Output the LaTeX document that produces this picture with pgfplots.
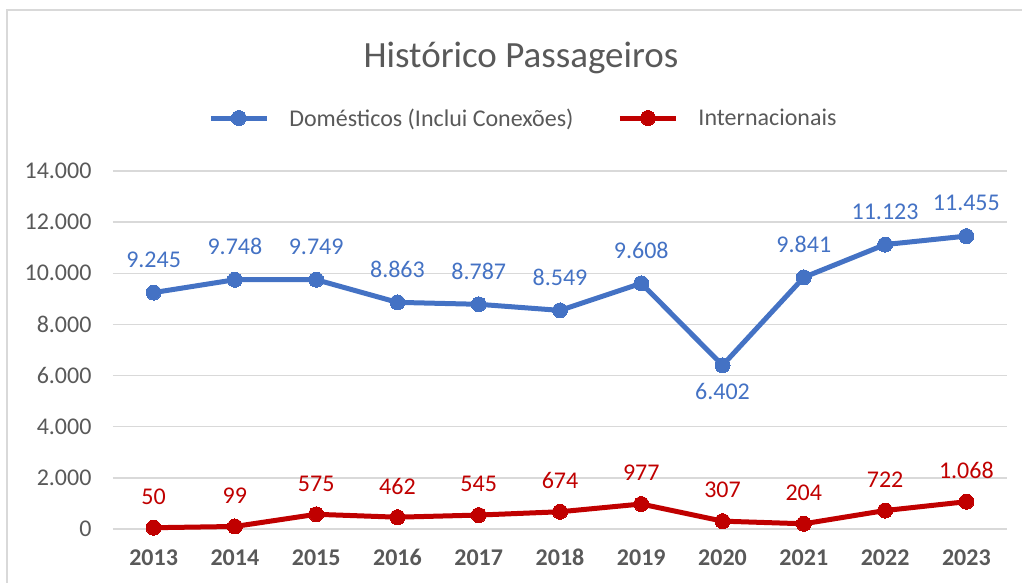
\documentclass[border=0pt]{standalone}
\usepackage{fontspec}
\setmainfont{Carlito}
\usepackage{pgfplots}
\pgfplotsset{compat=1.18}
\usetikzlibrary{calc}
\definecolor{dom}{RGB}{68,114,196}
\definecolor{intl}{RGB}{192,0,0}
\definecolor{txt}{RGB}{89,89,89}
\definecolor{grd}{RGB}{217,217,217}

% x = 0..10 for 2013..2023, s = label shift (pt)
\pgfplotstableread{
x y s
0 9245 33
1 9748 33
2 9749 33
3 8863 33
4 8787 33
5 8549 33
6 9608 33
7 6402 -26
8 9841 33
9 11123 33
10 11455 33
}\domestic
\pgfplotstableread{
x y s
0 50 31
1 99 31
2 575 31
3 462 31
4 545 31
5 674 31
6 977 31
7 307 31
8 204 31
9 722 31
10 1068 31
}\internacional

\begin{document}
\begin{tikzpicture}
\begin{axis}[
  name=ax, at={(0,0)}, anchor=south west,
  scale only axis, width=894bp, height=358bp,
  xmin=-0.5, xmax=10.5, ymin=0, ymax=14000,
  xtick={0,...,10},
  xticklabels={2013,2014,2015,2016,2017,2018,2019,2020,2021,2022,2023},
  ytick={0,2000,...,14000},
  ymajorgrids, grid style={grd, line width=1.5bp},
  axis line style={draw=none}, major tick length=0pt,
  tick label style={font=\fontsize{24bp}{28bp}\selectfont, text=txt},
  xticklabel style={font=\fontsize{24bp}{28bp}\selectfont\bfseries, yshift=-17bp,
    text height=16bp, text depth=1bp},
  yticklabel style={xshift=-18bp},
  /pgf/number format/.cd, 1000 sep={.}, assume math mode=true, /pgfplots/.cd,
  scaled y ticks=false,
  legend columns=2,
  legend style={at={(0.459,1.148)}, anchor=center, draw=none, fill=none,
    font=\fontsize{24bp}{28bp}\selectfont, text=txt,
    /tikz/every odd column/.append style={column sep=18bp},
    /tikz/every even column/.append style={column sep=42bp}},
  legend image code/.code={%
    \draw[#1, mark repeat=2, mark phase=2] plot coordinates {(0bp,0bp) (28bp,0bp) (56bp,0bp)};},
  nodes near coords,
  visualization depends on={\thisrow{s}\as\myshift},
  every node near coord/.append style={anchor=center, yshift=\myshift,
    font=\fontsize{24bp}{28bp}\selectfont},
  clip=false,
]
\addplot[dom, line width=5bp, mark=*, mark size=7.5bp,
  mark options={fill=dom, draw=dom, line width=0pt},
  every node near coord/.append style={text=dom}] table[x=x, y=y] {\domestic};
\addlegendentry{Domésticos (Inclui Conexões)}
\addplot[intl, line width=5bp, mark=*, mark size=7.5bp,
  mark options={fill=intl, draw=intl, line width=0pt},
  every node near coord/.append style={text=intl}] table[x=x, y=y] {\internacional};
\addlegendentry{Internacionais}
\end{axis}
\node[text=txt, font=\fontsize{37bp}{41bp}\selectfont] at ($(ax.south west)+(408bp,471bp)$) {Histórico Passageiros};
\draw[grd, line width=2bp] ($(ax.south west)+(-106bp,-80bp)$) -- ($(ax.south west)+(-106bp,519bp)$) -- ($(ax.south west)+(940bp,519bp)$);
\pgfresetboundingbox
\useasboundingbox ($(ax.south west)+(-113bp,-54bp)$) rectangle ($(ax.south west)+(909bp,529bp)$);
\end{tikzpicture}
\end{document}
